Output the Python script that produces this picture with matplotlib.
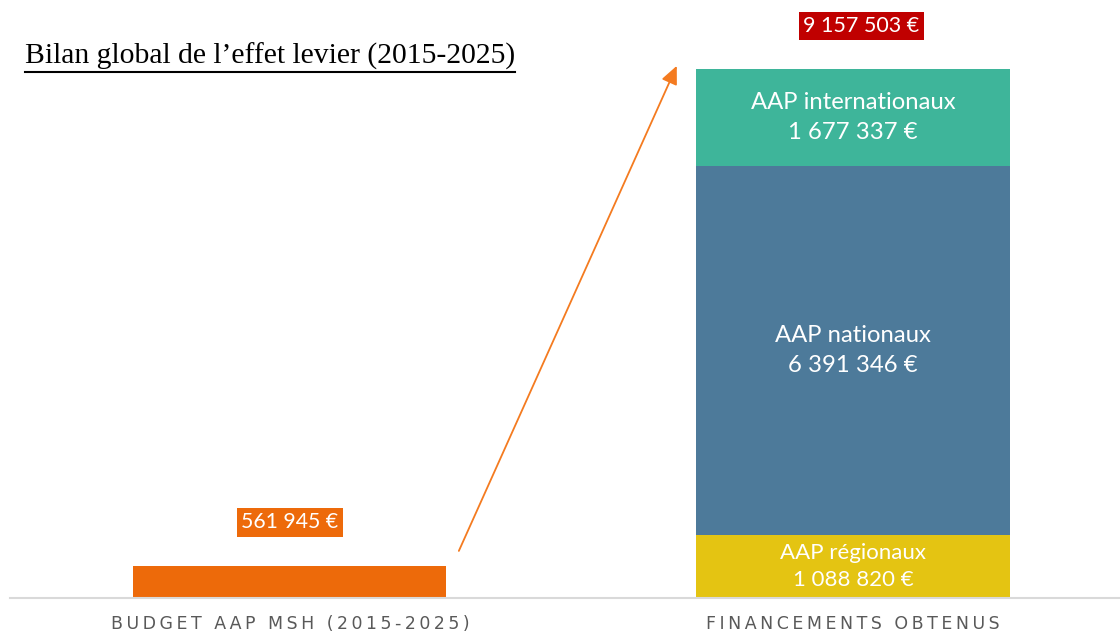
import matplotlib.pyplot as plt
from matplotlib.lines import Line2D

# data
categories = ["BUDGET AAP MSH (2015-2025)", "FINANCEMENTS OBTENUS"]
budget_msh = 561945
segment_names = ["AAP régionaux", "AAP nationaux", "AAP internationaux"]
segment_values = [1088820, 6391346, 1677337]
segment_colors = ["#E4C412", "#4D7A9A", "#3EB59A"]
total_label = "9 157 503 €"
budget_label = "561 945 €"
title = "Bilan global de l\u2019effet levier (2015-2025)"


def fmt(v):
    return "{:,}".format(v).replace(",", " ") + " €"


def spaced(s):
    # emulate letter spacing with thin spaces
    return "\u2009".join(s)


plt.rcParams['font.family'] = ['Lato', 'DejaVu Sans']

fig = plt.figure(figsize=(11.2, 6.32), dpi=100)
ax = fig.add_axes([10 / 1120, 34 / 632, 1110 / 1120, 598 / 632])

total = sum(segment_values)
ymax = total * 598 / 529
ax.set_xlim(-0.497, 1.474)
ax.set_ylim(0, ymax)
width = 0.556

# left bar
ax.bar(0, budget_msh, width=width, color="#ED6A0A")
ax.annotate(budget_label, (0, budget_msh), xytext=(0, 31), textcoords="offset points",
            ha="center", va="center", color="white", fontsize=15.3,
            bbox=dict(boxstyle="square,pad=0.2", fc="#ED6A0A", ec="none"))

# stacked right bar
bottom = 0
for name, val, col in zip(segment_names, segment_values, segment_colors):
    ax.bar(1, val, width=width, bottom=bottom, color=col)
    fs = 16 if val < 1500000 else 17.2
    ls = 1.45 if val < 1500000 else 1.55
    ax.text(1, bottom + val / 2, name + "\n" + fmt(val), ha="center", va="center",
            color="white", fontsize=fs, linespacing=ls)
    bottom += val

ax.annotate(total_label, (1.015, total), xytext=(0, 31), textcoords="offset points",
            ha="center", va="center", color="white", fontsize=15.5,
            bbox=dict(boxstyle="square,pad=0.2", fc="#C00000", ec="none"))

# arrow
ax.annotate("", xy=(0.687, total * 1.006), xytext=(0.300, budget_msh * 1.45),
            arrowprops=dict(arrowstyle="-|>,head_length=1.1,head_width=0.5",
                            color="#F47B20", lw=1.3, shrinkA=0, shrinkB=0))

# axes styling
for s in ["top", "right", "left"]:
    ax.spines[s].set_visible(False)
ax.spines["bottom"].set_color("#D9D9D9")
ax.spines["bottom"].set_linewidth(1.5)
ax.set_yticks([])
ax.set_xticks([0, 1])
ax.set_xticklabels([spaced(c) for c in categories], family=["DejaVu Sans"],
                   fontsize=12.5, color="#595959")
ax.tick_params(axis="x", length=0, pad=12)

# underlined title
t = fig.text(25 / 1120, 1 - 56 / 632, title, family=["Liberation Serif"], fontsize=21.3,
             va="center", ha="left", color="black")
fig.canvas.draw()
bb = t.get_window_extent(renderer=fig.canvas.get_renderer())
bb = bb.transformed(fig.transFigure.inverted())
uy = 1 - 72 / 632
fig.add_artist(Line2D([bb.x0, bb.x1], [uy, uy], transform=fig.transFigure,
                      color="black", lw=1.5))

fig.savefig("out.png", dpi=100)
